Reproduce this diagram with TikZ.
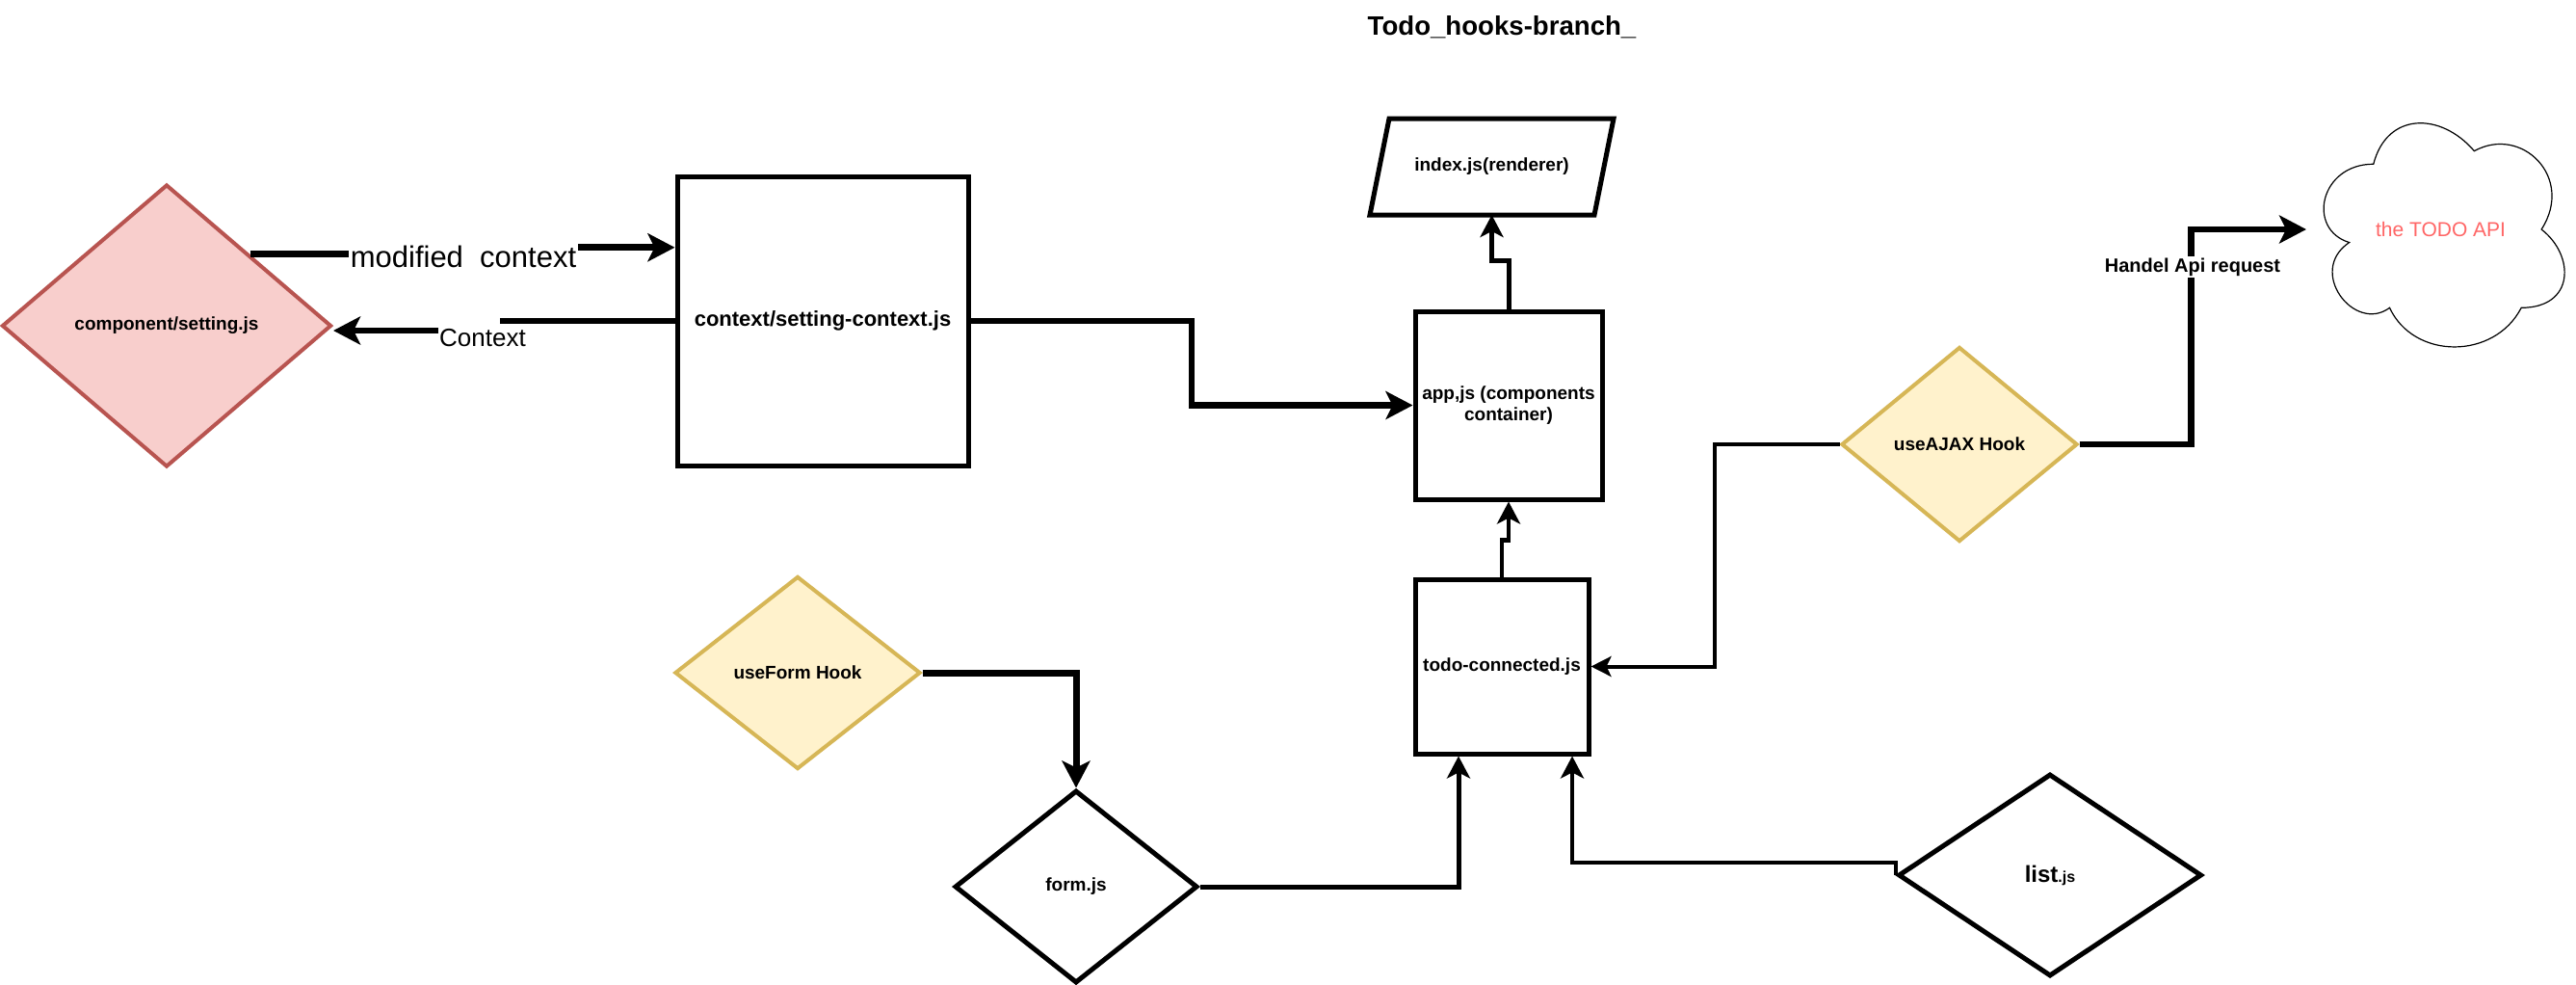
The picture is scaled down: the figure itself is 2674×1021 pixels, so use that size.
\documentclass[tikz,border=0pt]{standalone}
\usepackage{fontspec}
\setmainfont{Liberation Sans}
\usetikzlibrary{arrows.meta,shapes.geometric,calc}
\definecolor{setred}{HTML}{B85450}
\definecolor{setfill}{HTML}{F8CECC}
\definecolor{yeld}{HTML}{D6B656}
\definecolor{yelf}{HTML}{FFF2CC}
\definecolor{apired}{HTML}{FF6666}
\newcommand{\pxfont}[2]{\fontsize{#1}{#2}\selectfont}
\tikzset{
  box/.style={draw, line width=5pt, fill=white, inner sep=2pt, font=\pxfont{19}{22}\bfseries},
  dia/.style={diamond, draw, line width=5pt, fill=white, inner sep=1pt, font=\pxfont{19}{22}\bfseries},
  redd/.style={diamond, draw=setred, fill=setfill, line width=4pt, inner sep=1pt, font=\pxfont{19}{22}\bfseries},
  yel/.style={diamond, draw=yeld, fill=yelf, line width=4pt, inner sep=1pt, font=\pxfont{19}{22}\bfseries},
  arrL/.style={-{Stealth[length=28pt,width=29pt,inset=7pt]}},
  arrM/.style={-{Stealth[length=23pt,width=24pt,inset=6pt]}},
  arrS/.style={-{Stealth[length=21pt,width=21pt,inset=5pt]}},
}
\begin{document}
\begin{tikzpicture}[x=1pt,y=-1pt]
\fill[white] (0,0) rectangle (2674,1021);
\useasboundingbox (0,0) rectangle (2674,1021);

% title
\node[font=\pxfont{27.6}{32}\bfseries] (title) at (1559,28) {Todo\_hooks-branch\_};

% nodes
\node[redd, minimum width=342pt, minimum height=293pt] (setting) at (173,338) {component/setting.js};
\node[box, minimum width=302pt, minimum height=300pt, font=\pxfont{22}{26}\bfseries] (ctx) at (854,333) {context/setting-context.js};
\node[box, minimum width=194pt, minimum height=195pt, align=center] (app) at (1566,420.5) {app,js (components\\container)};
\node[minimum width=233pt, minimum height=100pt, outer sep=0pt, font=\pxfont{19}{22}\bfseries] (index) at (1548.5,173) {index.js(renderer)};
\draw[line width=5pt, line join=miter] ($(index.north west)+(10,0)$) -- ($(index.north east)+(10,0)$) -- ($(index.south east)+(-10,0)$) -- ($(index.south west)+(-10,0)$) -- cycle;
\node[box, minimum width=180pt, minimum height=181pt] (todo) at (1559,691.5) {todo-connected.js};
\node[yel, minimum width=255pt, minimum height=200pt] (useform) at (828,698) {useForm Hook};
\node[dia, minimum width=252pt, minimum height=200pt] (form) at (1117,920) {form.js};
\node[dia, minimum width=315pt, minimum height=210pt] (list) at (2128,908) {{\pxfont{24}{28}list}{\pxfont{16}{20}.js}};
\node[yel, minimum width=245pt, minimum height=202pt] (ajax) at (2034,461) {useAJAX Hook};

% cloud
\node[minimum width=279pt, minimum height=271pt, outer sep=0pt, text=apired, font=\pxfont{21}{25}] (api) at (2533.5,238) {the TODO API};
\begin{scope}[shift={(api.north west)}, x={(279pt,0pt)}, y={(0pt,-271pt)}]
\draw[line width=1.2pt] (0.25,0.25) .. controls (0.05,0.25) and (0,0.5) .. (0.16,0.55)
  .. controls (0,0.66) and (0.18,0.9) .. (0.31,0.8)
  .. controls (0.4,1) and (0.7,1) .. (0.8,0.8)
  .. controls (1,0.8) and (1,0.6) .. (0.875,0.5)
  .. controls (1,0.3) and (0.8,0.1) .. (0.625,0.2)
  .. controls (0.5,0.05) and (0.3,0.05) .. (0.25,0.25) -- cycle;
\end{scope}

% labels
\node[font=\pxfont{31}{36}, inner sep=2pt] (lblmod) at (481,266) {modified\ \ context};
\node[font=\pxfont{26}{30}, inner sep=1pt] (lblctx) at (501,351) {Context};

\coordinate (modin) at ($(ctx.north west)!0.25!(ctx.south west)$);
\coordinate (cA) at (519,333);
\coordinate (cB) at (455,343);

% connectors
\draw[line width=7pt] (setting.north east) -- (lblmod.west |- setting.north east);
\draw[line width=7pt, arrL] (lblmod.east |- modin) -- (modin);
\draw[line width=6pt] (ctx.west) -- (cA);
\draw[line width=6pt, arrL] (cB) -- (setting.east |- cB);
\draw[line width=6.5pt, arrL] (ctx.east) -| ($(ctx.east)!.5!(app.west)$) |- (app.west);
\draw[line width=5pt, arrM] (app.north) -- ++(0,-50) -| (index.south);
\draw[line width=4.5pt, arrM] (todo.north) -- ++(0,-38) -| (app.south);
\draw[line width=4pt, arrS] (ajax.west) -- ++(-130,0) |- (todo.east);
\draw[line width=6.5pt, arrL] (ajax.east) -- ++(116,0) |- (api.west);
\node[font=\pxfont{20}{24}\bfseries, fill=white, inner sep=2pt] (lblapi) at (2276,277) {Handel Api request};
\draw[line width=7pt, arrL] (useform.east) -| (form.north);
\draw[line width=5pt, arrM] (form.east) -| ($(todo.south)+(-45,0)$);
\draw[line width=4.5pt, arrM] (list.west) -- ++(0,-13) -| ($(todo.south)+(73,0)$);
\end{tikzpicture}
\end{document}
